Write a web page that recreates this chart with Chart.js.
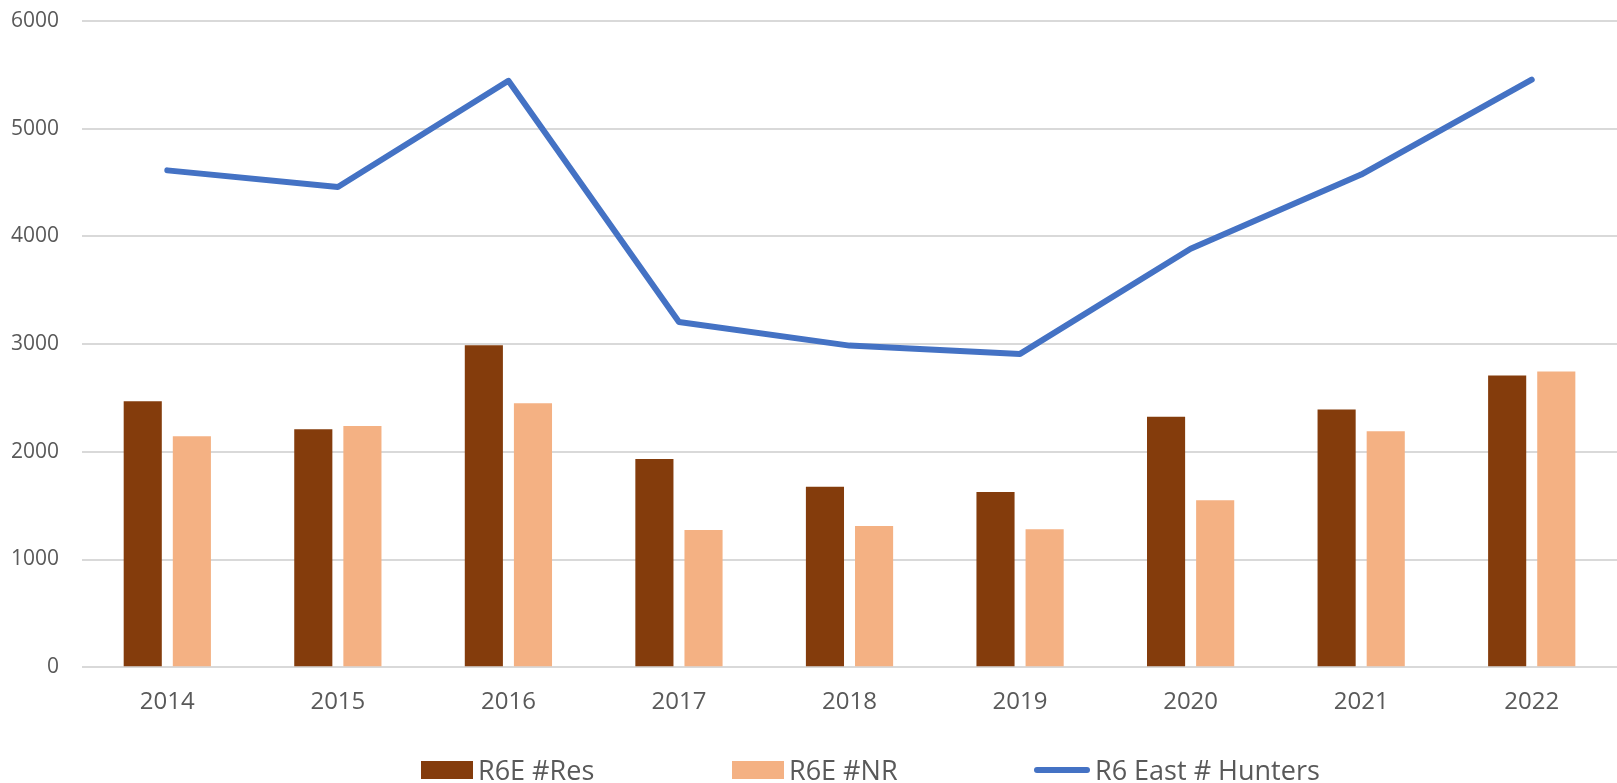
<!DOCTYPE html>
<html>
<head>
<meta charset="utf-8">
<title>R6 East Hunters</title>
<script src="https://cdn.jsdelivr.net/npm/chart.js@4"></script>
<style>
  html, body { margin: 0; padding: 0; background: #ffffff; }
  #wrap { position: relative; width: 1617px; height: 783px; }
  #legend { position: absolute; left: 0; top: 0; width: 100%; height: 100%; pointer-events: none; }
  .legend-item { position: absolute; top: 754px; height: 32px; display: flex; align-items: center; }
  .legend-box { width: 52px; height: 18px; flex: none; }
  .legend-line { width: 56px; height: 6px; border-radius: 3px; flex: none; }
  .legend-text {
    margin-left: 5px;
    font-family: 'Open Sans', 'Noto Sans', sans-serif;
    font-size: 27px;
    line-height: 32px;
    color: #595959;
    white-space: nowrap;
  }
</style>
</head>
<body>
<div id="wrap"><canvas id="chart"></canvas><div id="legend"></div></div>
<script>
// Données
const years = ["2014", "2015", "2016", "2017", "2018", "2019", "2020", "2021", "2022"];
const resHunters = [2470, 2210, 2990, 1933, 1675, 1627, 2325, 2392, 2708];
const nrHunters = [2145, 2240, 2450, 1273, 1311, 1282, 1550, 2190, 2745];
const totalHunters = [4613, 4458, 5445, 3206, 2986, 2909, 3885, 4574, 5455];
const yTicks = [0, 1000, 2000, 3000, 4000, 5000, 6000];

const TEXT_COLOR = "#595959";
const GRID_COLOR = "#D9D9D9";
const FONT_FAMILY = "'Open Sans', 'Noto Sans', sans-serif";
const LEGEND_LEFT = [421, 732, 1034]; // position horizontale des entrées de légende

// Légende HTML construite à partir des jeux de données du graphique
const htmlLegendPlugin = {
  id: "htmlLegend",
  afterUpdate(chart) {
    const container = document.getElementById("legend");
    container.innerHTML = "";
    const items = chart.options.plugins.legend.labels.generateLabels(chart);
    items.sort((a, b) => a.datasetIndex - b.datasetIndex);

    items.forEach((item, i) => {
      const dataset = chart.data.datasets[item.datasetIndex];
      const entry = document.createElement("div");
      entry.className = "legend-item";
      entry.style.left = LEGEND_LEFT[i] + "px";

      const marker = document.createElement("span");
      if (dataset.type === "line") {
        marker.className = "legend-line";
        marker.style.background = item.strokeStyle;
      } else {
        marker.className = "legend-box";
        marker.style.background = item.fillStyle;
      }

      const text = document.createElement("span");
      text.className = "legend-text";
      text.textContent = item.text;

      entry.appendChild(marker);
      entry.appendChild(text);
      container.appendChild(entry);
    });
  },
};

function initChart() {
  const ctx = document.getElementById("chart").getContext("2d");

  new Chart(ctx, {
    type: "bar",
    data: {
      labels: years,
      datasets: [
        {
          label: "R6E #Res",
          data: resHunters,
          backgroundColor: "#843C0C",
          borderWidth: 0,
          order: 2,
          categoryPercentage: 0.576,
          barPercentage: 0.776,
        },
        {
          label: "R6E #NR",
          data: nrHunters,
          backgroundColor: "#F4B183",
          borderWidth: 0,
          order: 2,
          categoryPercentage: 0.576,
          barPercentage: 0.776,
        },
        {
          type: "line",
          label: "R6 East # Hunters",
          data: totalHunters,
          borderColor: "#4472C4",
          backgroundColor: "#4472C4",
          borderWidth: 6,
          borderCapStyle: "round",
          borderJoinStyle: "round",
          pointRadius: 0,
          pointHoverRadius: 0,
          tension: 0,
          order: 1,
        },
      ],
    },
    options: {
      responsive: true,
      maintainAspectRatio: false,
      animation: false,
      layout: {
        padding: { left: -12, right: -1, top: 21, bottom: 45 },
      },
      plugins: {
        tooltip: { enabled: false },
        legend: { display: false },
      },
      scales: {
        x: {
          grid: { display: false, drawTicks: false },
          border: { display: false },
          ticks: { color: TEXT_COLOR, font: { family: FONT_FAMILY, size: 24 }, padding: 21 },
          afterFit: (axis) => {
            axis.paddingLeft = 0;
            axis.paddingRight = 0;
          },
        },
        y: {
          min: 0,
          max: 6000,
          afterBuildTicks: (axis) => {
            axis.ticks = yTicks.map((v) => ({ value: v }));
          },
          afterFit: (axis) => {
            axis.paddingTop = 0;
            axis.paddingBottom = 0;
          },
          grid: { color: GRID_COLOR, lineWidth: 2, drawTicks: false },
          border: { display: false },
          ticks: {
            color: TEXT_COLOR,
            font: { family: FONT_FAMILY, size: 21 },
            padding: 23,
            callback: (value) => String(value),
          },
        },
      },
    },
    plugins: [htmlLegendPlugin],
  });
}

document.addEventListener("DOMContentLoaded", initChart);
</script>
</body>
</html>
